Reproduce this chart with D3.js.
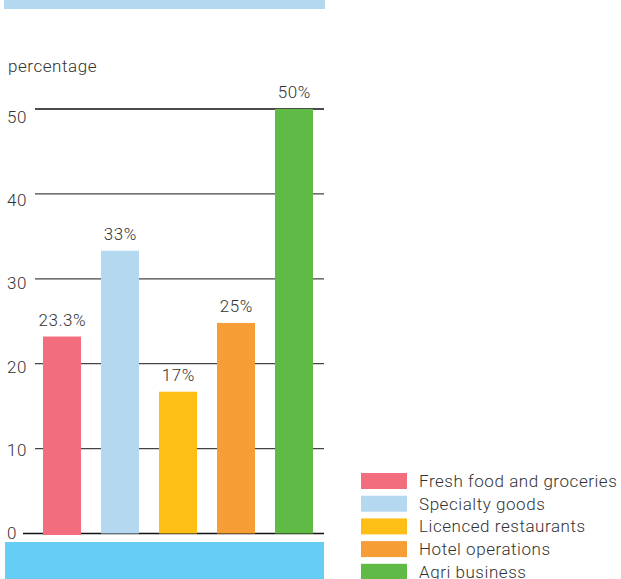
<!DOCTYPE html>
<html>
<head>
<meta charset="utf-8">
<script src="https://cdn.jsdelivr.net/npm/d3@7"></script>
<style>
  body { margin: 0; background: #fff; }
  svg { display: block; font-family: Roboto, "Open Sans", sans-serif; font-weight: 300; letter-spacing: 0.55px; }
</style>
</head>
<body>
<div id="chart"></div>
<script>
// chart data
var categories = ["Fresh food and groceries", "Specialty goods", "Licenced restaurants", "Hotel operations", "Agri business"];
var values = [23.2, 33.3, 16.7, 24.8, 50];
var valueLabels = ["23.3%", "33%", "17%", "25%", "50%"];
var colors = ["#F26D7D", "#B3D8F0", "#FDBE16", "#F79D36", "#5FBA46"];
var yTicks = [0, 10, 20, 30, 40, 50];

var width = 621, height = 579;

var svg = d3.select("#chart").append("svg")
  .attr("width", width)
  .attr("height", height);

// decorative bands top and bottom
svg.append("rect").attr("x", 4).attr("y", 0).attr("width", 321).attr("height", 9).attr("fill", "#B3D8F0");
svg.append("rect").attr("x", 5).attr("y", 542).attr("width", 319).attr("height", 37).attr("fill", "#66CDF5");

var y = d3.scaleLinear().domain([0, 50]).range([533.5, 109]);
// tick labels sit on a slightly tighter spacing than the gridlines
var yLab = d3.scaleLinear().domain([0, 50]).range([539, 123]);
var x = d3.scaleBand().domain(categories).range([33, 323]).paddingInner(20 / 58).paddingOuter(10 / 58);

// gridlines
svg.selectAll(".grid")
  .data(yTicks)
  .enter()
  .append("line")
  .attr("x1", function(d) { return d === 0 ? 23 : 35; })
  .attr("x2", 324)
  .attr("y1", function(d) { return y(d); })
  .attr("y2", function(d) { return y(d); })
  .attr("stroke", function(d) { return d === 0 || d === 50 ? "#111" : "#444"; })
  .attr("stroke-width", 1.3);

// tick labels
svg.selectAll(".tick")
  .data(yTicks)
  .enter()
  .append("text")
  .attr("x", 7)
  .attr("y", function(d) { return yLab(d); })
  .style("font-size", "17px")
  .attr("fill", "#333")
  .text(String);

svg.append("text")
  .attr("x", 8)
  .attr("y", 72)
  .style("font-size", "17px")
  .attr("fill", "#333")
  .text("percentage");

// bars
svg.selectAll(".bar")
  .data(values)
  .enter()
  .append("rect")
  .attr("x", function(d, i) { return x(categories[i]); })
  .attr("y", function(d) { return y(d); })
  .attr("width", x.bandwidth())
  .attr("height", function(d, i) { return y(0) - y(d) + (i === 0 ? 1.5 : 0); })
  .attr("fill", function(d, i) { return colors[i]; });

svg.selectAll(".val")
  .data(values)
  .enter()
  .append("text")
  .attr("x", function(d, i) { return x(categories[i]) + x.bandwidth() / 2 + 0.3; })
  .attr("y", function(d) { return y(d) - 11; })
  .attr("text-anchor", "middle")
  .style("font-size", "17px")
  .attr("fill", "#333")
  .text(function(d, i) { return valueLabels[i]; });

// legend
var legend = svg.selectAll(".legend")
  .data(categories)
  .enter()
  .append("g")
  .attr("transform", function(d, i) { return "translate(361," + (473 + i * 22.7) + ")"; });

legend.append("rect")
  .attr("width", 46)
  .attr("height", 16)
  .attr("fill", function(d, i) { return colors[i]; });

legend.append("text")
  .attr("x", 58)
  .attr("y", 14)
  .style("font-size", "17px")
  .attr("fill", "#333")
  .text(String);
</script>
</body>
</html>
